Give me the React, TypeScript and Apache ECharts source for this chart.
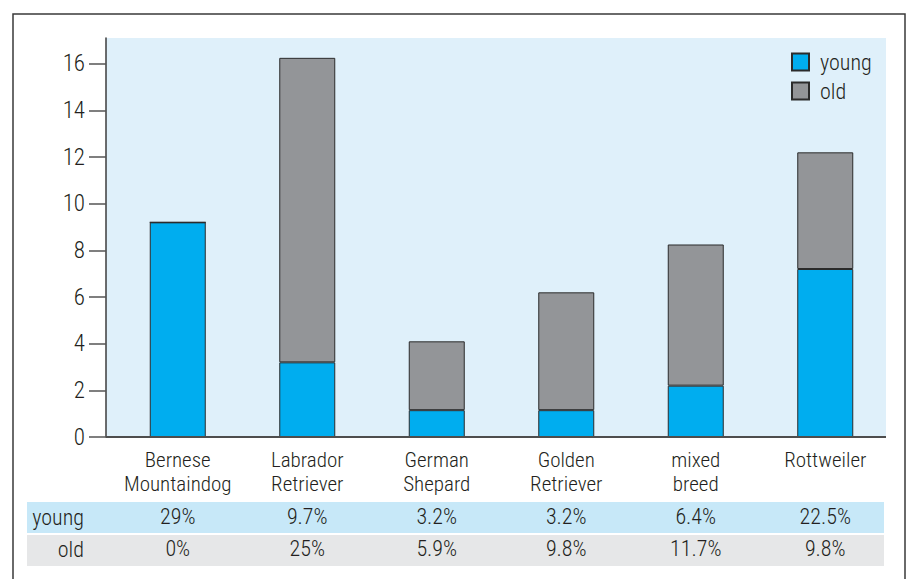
import React, { useEffect, useRef } from "react";
import * as echarts from "echarts";

const categories = ["Bernese\nMountaindog", "Labrador\nRetriever", "German\nShepard", "Golden\nRetriever", "mixed\nbreed", "Rottweiler"];
const youngValues = [9.2, 3.2, 1.15, 1.15, 2.2, 7.2];
const oldValues = [0, 13.05, 2.95, 5.05, 6.05, 5.0];
const youngPct = ["29%", "9.7%", "3.2%", "3.2%", "6.4%", "22.5%"];
const oldPct = ["0%", "25%", "5.9%", "9.8%", "11.7%", "9.8%"];
const rowNames = ["young", "old"];
const yTicks = [0, 2, 4, 6, 8, 10, 12, 14, 16];

const FONT = "'Roboto Condensed', 'DejaVu Sans Condensed', sans-serif";
const TXT = "#231f20";
const FS = 21;
const FW = 300;

export default function App() {
  const ref = useRef<HTMLDivElement>(null);
  useEffect(() => {
    if (!ref.current) return;
    const chart = echarts.init(ref.current, null, { renderer: "svg" });
    const option: any = {
      animation: false,
      backgroundColor: "#ffffff",
      textStyle: { fontFamily: FONT },
      grid: { left: 113, top: 38, width: 777, height: 399, containLabel: false },
      legend: {
        data: rowNames,
        orient: "vertical",
        left: 786,
        top: 46,
        itemWidth: 17,
        itemHeight: 17,
        itemGap: 7,
        icon: "rect",
        textStyle: { fontSize: 22, fontWeight: FW, color: TXT, fontFamily: FONT, padding: [0, 0, 0, 6] },
      },
      xAxis: [
        {
          type: "category",
          data: categories,
          position: "bottom",
          axisLine: { show: false },
          axisTick: { show: false },
          axisLabel: { interval: 0, fontSize: FS, fontWeight: FW, lineHeight: 24, margin: 11, color: TXT, fontFamily: FONT },
        },
        {
          type: "category",
          data: youngPct,
          position: "bottom",
          axisLine: { show: false },
          axisTick: { show: false },
          axisLabel: { interval: 0, fontSize: 22, fontWeight: FW, lineHeight: 22, margin: 68, color: TXT, fontFamily: FONT },
        },
        {
          type: "category",
          data: oldPct,
          position: "bottom",
          axisLine: { show: false },
          axisTick: { show: false },
          axisLabel: { interval: 0, fontSize: 22, fontWeight: FW, lineHeight: 22, margin: 100, color: TXT, fontFamily: FONT },
        },
      ],
      yAxis: {
        type: "value",
        min: 0,
        max: 17.1,
        interval: 2,
        offset: 7,
        splitLine: { show: false },
        axisLine: { show: true, lineStyle: { color: "#3d3d3d", width: 1.5 } },
        axisTick: { show: true, length: 17, customValues: yTicks, lineStyle: { color: "#555555", width: 1.5 } },
        axisLabel: { customValues: yTicks, margin: 21, fontSize: 23, fontWeight: FW, color: TXT, fontFamily: FONT },
      },
      graphic: [
        {
          type: "rect",
          z: -10,
          silent: true,
          shape: { x: 106, y: 38, width: 780, height: 399 },
          style: { fill: "#dff0fa" },
        },
        {
          type: "rect",
          z: -10,
          silent: true,
          shape: { x: 27, y: 502, width: 857, height: 31 },
          style: { fill: "#c7e8f8" },
        },
        {
          type: "rect",
          z: -10,
          silent: true,
          shape: { x: 27, y: 535, width: 857, height: 31 },
          style: { fill: "#e6e7e8" },
        },
        {
          type: "line",
          z: 10,
          silent: true,
          shape: { x1: 106, y1: 437, x2: 886, y2: 437 },
          style: { stroke: "#4d4d4d", lineWidth: 2 },
        },
        {
          type: "rect",
          z: 10,
          silent: true,
          shape: { x: 13, y: 14, width: 892, height: 620 },
          style: { fill: "none", stroke: "#3a3a3a", lineWidth: 1.5 },
        },
        {
          type: "text",
          z: 10,
          silent: true,
          x: 84,
          y: 517,
          style: { text: rowNames[0], align: "right", verticalAlign: "middle", fontSize: 22, fontWeight: FW, lineHeight: 22, fontFamily: FONT, fill: TXT },
        },
        {
          type: "text",
          z: 10,
          silent: true,
          x: 84,
          y: 549,
          style: { text: rowNames[1], align: "right", verticalAlign: "middle", fontSize: 22, fontWeight: FW, lineHeight: 22, fontFamily: FONT, fill: TXT },
        },
      ],
      series: [
        {
          name: rowNames[0],
          type: "bar",
          stack: "total",
          barWidth: 56,
          data: youngValues,
          itemStyle: { color: "#00adef", borderColor: "#2b2b2b", borderWidth: 1 },
        },
        {
          name: rowNames[1],
          type: "bar",
          stack: "total",
          barWidth: 56,
          data: oldValues,
          itemStyle: { color: "#939598", borderColor: "#2b2b2b", borderWidth: 1 },
        },
      ],
    };
    chart.setOption(option);
    return () => chart.dispose();
  }, []);
  return (
    <div
      ref={ref}
      style={{ position: "fixed", left: 0, top: 0, width: 909, height: 579, background: "#fff" }}
    />
  );
}
